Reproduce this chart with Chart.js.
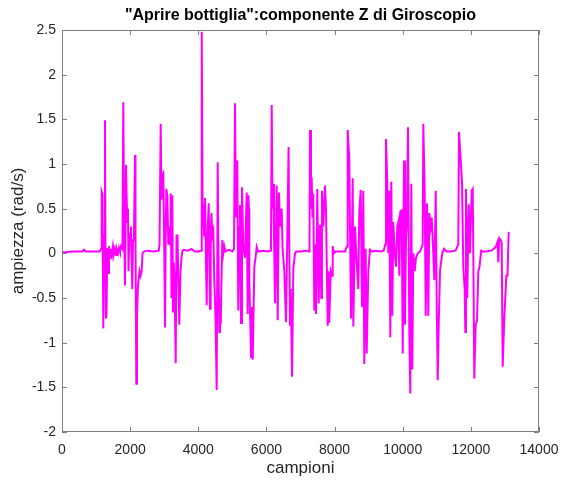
<!DOCTYPE html>
<html>
<head>
<meta charset="utf-8">
<script src="https://cdn.jsdelivr.net/npm/chart.js@4.4.0/dist/chart.umd.min.js"></script>
<style>
    html, body { margin: 0; padding: 0; background: #fff; }
    #wrap { width: 562px; height: 486px; }
</style>
</head>
<body>
<div id="wrap"><canvas id="graficoGiroZ" width="562" height="486"></canvas></div>
<script>
//DATA - campioni (sample index) and gyro Z (rad/s)
const samples = [
    0, 300, 600, 640, 700, 1100,
    1150, 1165, 1188, 1212, 1233, 1262, 1277, 1291, 1306, 1330, 1344, 1359, 1379, 1409, 1438, 1468, 1497, 1526, 1556, 1585, 1614, 1644, 1673, 1702, 1732, 1776,
    1799, 1820, 1849, 1878, 1899, 1917, 1937, 1952, 1975, 1996, 2025, 2063, 2084, 2113, 2143, 2157, 2181, 2201, 2231, 2275, 2304, 2339, 2363, 2407,
    2500, 2700, 2840,
    2862, 2897, 2920, 2944, 2973, 2994, 3023, 3044, 3062, 3091, 3121, 3141, 3170, 3190, 3214, 3238, 3258, 3278, 3302, 3337, 3361, 3390, 3420, 3443, 3478, 3507, 3531, 3561,
    3700, 3800, 3900, 4000, 4080,
    4094, 4109, 4129, 4147, 4168, 4197, 4218, 4247, 4270, 4306, 4323, 4344, 4364, 4388, 4411, 4441, 4470, 4505, 4540, 4570, 4588, 4617, 4637, 4658, 4681, 4705, 4734, 4763, 4799, 4834,
    4900, 5000,
    5048, 5077, 5107, 5145, 5174, 5204, 5224, 5254, 5283, 5321, 5371, 5421, 5450, 5468, 5489, 5498, 5548, 5568, 5598, 5645, 5680, 5715, 5753,
    5900, 6050, 6120,
    6134, 6155, 6178, 6202, 6222, 6251, 6301, 6330, 6368, 6397, 6447, 6475, 6525, 6574, 6621, 6650, 6671, 6692, 6715, 6751, 6789, 6839, 6877,
    7000, 7150, 7250,
    7264, 7279, 7308, 7328, 7352, 7376, 7405, 7426, 7455, 7493, 7534, 7572, 7610, 7630, 7669, 7719, 7748, 7798, 7822, 7845, 7887, 7925, 7945, 7983, 8021,
    8150, 8300,
    8365, 8385, 8432, 8453, 8482, 8532, 8550, 8600, 8649, 8696, 8726, 8767, 8805, 8843, 8872, 8913, 8943, 8990, 9040, 9090,
    9200, 9350, 9440,
    9489, 9509, 9547, 9577, 9606, 9636, 9665, 9694, 9724, 9765, 9803, 9841, 9871, 9900, 9929, 9970, 10000, 10038, 10067, 10096, 10117, 10155, 10193, 10222, 10252, 10281, 10311, 10352, 10390, 10440, 10507,
    10587, 10604, 10645, 10675, 10713, 10751, 10781, 10822, 10851, 10898, 10928, 10969, 10998, 11027, 11057, 11095, 11124, 11162, 11212, 11291,
    11400, 11550,
    11631, 11652, 11702, 11740, 11778, 11819, 11837, 11857, 11895, 11936, 11975, 12025, 12054, 12072, 12101, 12142, 12181, 12219, 12254, 12303, 12351,
    12450, 12600,
    12729, 12758, 12787, 12805, 12834, 12875, 12905, 12934, 12981, 13011, 13040, 13075, 13110
];

const gyroZ = [
    0.01, 0.02, 0.02, 0.04, 0.02, 0.02,
    0.05, 0.69, 0.66, -0.84, 0.2, 1.49, -0.1, -0.73, -0.68, 0.06, -0.05, -0.22, 0.08, -0.05, 0.05, -0.02, 0.08, 0.0, 0.05, -0.02, 0.04, 0.0, 0.06, 0.02, 0.08, 0.05,
    1.69, 0.5, -0.36, 0.99, 0.6, 0.35, 0.5, -0.2, 0.15, 0.22, 0.3, -0.4, 0.15, 0.25, 1.1, 0.2, -1.46, -0.7, -0.35, -0.2, -0.25, -0.2, 0.0, 0.02,
    0.03, 0.02, 0.03,
    0.1, 1.45, 0.6, 0.88, 0.9, 0.3, -0.83, 0.2, 0.72, 0.65, 0.1, 0.3, 0.1, 0.67, -0.5, 0.65, -0.65, -0.1, -0.3, -1.23, 0.2, 0.2, -0.4, -0.8, -0.2, -0.05, 0.02, 0.04,
    0.03, 0.05, 0.02, 0.02, 0.03,
    0.2, 2.48, 0.3, 0.55, 0.2, 0.62, 0.1, -0.58, 0.2, 0.56, 0.1, -0.62, 0.2, 0.45, 0.2, 0.25, -0.3, -0.7, -1.53, 1.02, 0.1, -0.88, -0.5, -0.8, -0.3, 0.15, 0.0, 0.08, 0.02, 0.03,
    0.04, 0.02,
    0.05, 1.68, 0.4, 1.04, -0.64, 0.3, 0.54, -0.78, 0.74, 0.06, -0.05, 0.68, -0.68, 0.65, 0.5, -0.3, -1.16, -0.6, -1.19, -0.15, -0.05, 0.07, 0.02,
    0.03, 0.02, 0.03,
    0.1, 1.66, 0.5, 0.78, 0.2, -0.56, 0.76, -0.75, 0.68, 0.3, 0.5, 0.05, -0.2, -0.77, 0.4, 1.19, 0.1, -0.8, -0.4, -1.38, -0.17, 0.0, 0.02,
    0.02, 0.03, 0.02,
    0.1, 1.38, 0.5, 0.85, 0.4, 0.67, -0.64, 0.1, -0.68, 0.72, -0.56, 0.32, -0.5, 0.7, 0.3, 0.76, 0.5, -0.81, -0.2, -0.78, -0.2, -0.25, 0.08, 0.0, 0.02,
    0.02, 0.02,
    0.08, 1.38, 1.06, 0.3, -0.73, 0.84, -0.82, 0.3, -0.1, -0.4, 0.47, 0.71, -0.6, 0.7, -1.24, 0.05, -1.12, -0.2, 0.04, 0.02,
    0.03, 0.02, 0.03,
    0.1, 1.28, 0.8, 0.0, 0.7, -0.94, 0.8, -0.7, 0.35, 0.0, -0.15, 0.3, 0.35, -0.25, 0.47, 0.48, -1.12, 1.04, -0.8, 0.15, 0.3, 1.41, -0.88, -1.57, 0.78, -1.3, 0.0, -0.2, -0.05, 0.0, 0.02,
    0.1, 1.45, 0.68, -0.7, 0.56, -0.7, 0.45, 0.3, 0.4, 0.0, -0.3, 0.7, -0.55, -1.42, -0.8, -0.2, -0.1, 0.0, 0.05, 0.02,
    0.02, 0.03,
    0.1, 1.36, 1.04, 0.8, -0.15, -0.4, -0.88, 0.72, -0.5, 0.55, 0.0, 0.7, 0.72, 0.0, -1.4, -0.8, -0.75, -0.2, -0.15, 0.03, 0.02,
    0.02, 0.03,
    0.07, 0.1, 0.13, -0.1, 0.17, 0.15, 0.12, -1.27, -0.73, -0.5, -0.25, -0.25, 0.24
];

const xTicks = [0, 2000, 4000, 6000, 8000, 10000, 12000, 14000];
const yTicks = [-2, -1.5, -1, -0.5, 0, 0.5, 1, 1.5, 2, 2.5];
const chartTitle = '"Aprire bottiglia":componente Z di Giroscopio';

//GENERAL
const fontFamily = "'Liberation Sans', Arial, sans-serif";
const axisGray = '#7f7f7f';
const textGray = '#262626';

function setTicks(list) {
    return scale => { scale.ticks = list.map(v => ({ value: v })); };
}

// box around the plot with inward ticks on every side, title centred on the plot
const boxAxes = {
    id: 'boxAxes',
    afterDraw(chart) {
        const { ctx, chartArea: a, scales: { x, y } } = chart;
        const len = 5;
        ctx.save();
        ctx.strokeStyle = axisGray;
        ctx.lineWidth = 1;
        ctx.strokeRect(a.left + 0.5, a.top + 0.5, a.right - a.left - 1, a.bottom - a.top - 1);
        ctx.beginPath();
        xTicks.forEach(v => {
            const px = Math.round(x.getPixelForValue(v)) + 0.5;
            ctx.moveTo(px, a.bottom); ctx.lineTo(px, a.bottom - len);
            ctx.moveTo(px, a.top); ctx.lineTo(px, a.top + len);
        });
        yTicks.forEach(v => {
            const py = Math.round(y.getPixelForValue(v)) + 0.5;
            ctx.moveTo(a.left, py); ctx.lineTo(a.left + len, py);
            ctx.moveTo(a.right, py); ctx.lineTo(a.right - len, py);
        });
        ctx.stroke();

        ctx.fillStyle = '#000';
        ctx.font = 'bold 16px ' + fontFamily;
        ctx.textAlign = 'center';
        ctx.textBaseline = 'middle';
        ctx.fillText(chartTitle, (a.left + a.right) / 2, 16);
        ctx.restore();
    }
};

//CHART
const graphicGiro = document.getElementById('graficoGiroZ');

const graphicForGiro = new Chart(graphicGiro, {
    type: 'line',
    data: {
        datasets: [{
            label: 'Giroscopio Z',
            data: samples.map((s, i) => ({ x: s, y: gyroZ[i] })),
            borderColor: '#ff00ff',
            borderWidth: 2,
            pointRadius: 0,
            tension: 0,
            fill: false
        }]
    },
    options: {
        responsive: false,
        animation: false,
        layout: { padding: { left: 0, right: 23, top: 30, bottom: 0 } },
        plugins: {
            legend: { display: false },
            tooltip: { enabled: false },
            title: { display: false }
        },
        scales: {
            x: {
                type: 'linear',
                min: 0,
                max: 14000,
                afterBuildTicks: setTicks(xTicks),
                afterFit: scale => {
                    scale.height = 54;
                    scale.paddingLeft = 0;
                    scale.paddingRight = 0;
                },
                grid: { display: false, drawTicks: false },
                border: { display: false },
                ticks: {
                    color: textGray,
                    padding: 10,
                    maxRotation: 0,
                    font: { family: fontFamily, size: 14 },
                    callback: v => String(v)
                },
                title: {
                    display: true,
                    text: 'campioni',
                    color: textGray,
                    font: { family: fontFamily, size: 17 },
                    padding: { top: 0, bottom: 7.8 }
                }
            },
            y: {
                min: -2,
                max: 2.5,
                afterBuildTicks: setTicks(yTicks),
                afterFit: scale => {
                    scale.width = 62;
                    scale.paddingTop = 0;
                    scale.paddingBottom = 0;
                },
                grid: { display: false, drawTicks: false },
                border: { display: false },
                ticks: {
                    color: textGray,
                    padding: 6,
                    font: { family: fontFamily, size: 14 },
                    callback: v => String(v)
                },
                title: {
                    display: true,
                    text: 'ampiezza (rad/s)',
                    color: textGray,
                    font: { family: fontFamily, size: 17 },
                    padding: { top: 7.8, bottom: 0 }
                }
            }
        }
    },
    plugins: [boxAxes]
});
</script>
</body>
</html>
